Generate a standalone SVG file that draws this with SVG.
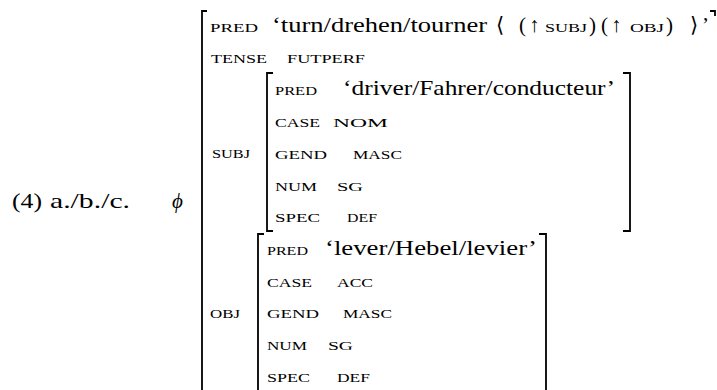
<svg xmlns="http://www.w3.org/2000/svg" width="717" height="390" viewBox="0 0 717 390">
<style>
.t{font-family:"Liberation Serif","DejaVu Serif",serif;font-size:21px;fill:#000}
.sc{font-family:"Liberation Serif","DejaVu Serif",serif;font-size:13.5px;fill:#000}
.br{fill:none;stroke:#000;stroke-width:1.8}
</style>
<rect width="717" height="390" fill="#fff"/>
<g id="label">
<text class="t" x="12" y="208" textLength="30" lengthAdjust="spacingAndGlyphs">(4)</text>
<text class="t" x="50" y="208" textLength="80" lengthAdjust="spacingAndGlyphs">a./b./c.</text>
<text class="t" x="172" y="208" font-style="italic">ϕ</text>
</g>
<g id="outer">
<path class="br" d="M207,11 H202 V390"/>
<path class="br" d="M710,11 H715 V16"/>
<text class="sc" x="210" y="32" textLength="48" lengthAdjust="spacingAndGlyphs">PRED</text>
<text class="t" x="272" y="32" textLength="215" lengthAdjust="spacingAndGlyphs">‘turn/drehen/tourner</text>
<text class="t" x="496" y="32">⟨</text>
<text class="t" x="519" y="32">(</text>
<text class="t" x="529" y="32">↑</text>
<text class="sc" x="545" y="32" textLength="42" lengthAdjust="spacingAndGlyphs">SUBJ</text>
<text class="t" x="589" y="32">)</text>
<text class="t" x="601" y="32">(</text>
<text class="t" x="611" y="32">↑</text>
<text class="sc" x="630" y="32" textLength="34" lengthAdjust="spacingAndGlyphs">OBJ</text>
<text class="t" x="666" y="32">)</text>
<text class="t" x="690" y="32">⟩</text>
<text class="t" x="702" y="32">’</text>
<text class="sc" x="211" y="63" textLength="56" lengthAdjust="spacingAndGlyphs">TENSE</text>
<text class="sc" x="287" y="63" textLength="78" lengthAdjust="spacingAndGlyphs">FUTPERF</text>
<text class="sc" x="212" y="158" textLength="38" lengthAdjust="spacingAndGlyphs">SUBJ</text>
<text class="sc" x="210" y="318" textLength="30" lengthAdjust="spacingAndGlyphs">OBJ</text>
</g>
<g id="subj">
<path class="br" d="M273,73 H267 V231 H273"/>
<path class="br" d="M623,73 H630 V231 H623"/>
<text class="sc" x="275" y="95" textLength="42" lengthAdjust="spacingAndGlyphs">PRED</text>
<text class="t" x="343" y="95" textLength="272" lengthAdjust="spacingAndGlyphs">‘driver/Fahrer/conducteur’</text>
<text class="sc" x="275" y="127" textLength="45" lengthAdjust="spacingAndGlyphs">CASE</text>
<text class="sc" x="333" y="127" textLength="55" lengthAdjust="spacingAndGlyphs">NOM</text>
<text class="sc" x="275" y="159" textLength="52" lengthAdjust="spacingAndGlyphs">GEND</text>
<text class="sc" x="353" y="159" textLength="49" lengthAdjust="spacingAndGlyphs">MASC</text>
<text class="sc" x="275" y="191" textLength="42" lengthAdjust="spacingAndGlyphs">NUM</text>
<text class="sc" x="337" y="191" textLength="26" lengthAdjust="spacingAndGlyphs">SG</text>
<text class="sc" x="275" y="222" textLength="45" lengthAdjust="spacingAndGlyphs">SPEC</text>
<text class="sc" x="347" y="222" textLength="30" lengthAdjust="spacingAndGlyphs">DEF</text>
</g>
<g id="obj">
<path class="br" d="M264,234 H258 V390"/>
<path class="br" d="M539,234 H546 V390"/>
<text class="sc" x="267" y="255" textLength="41" lengthAdjust="spacingAndGlyphs">PRED</text>
<text class="t" x="325" y="255" textLength="212" lengthAdjust="spacingAndGlyphs">‘lever/Hebel/levier’</text>
<text class="sc" x="267" y="287" textLength="45" lengthAdjust="spacingAndGlyphs">CASE</text>
<text class="sc" x="337" y="287" textLength="36" lengthAdjust="spacingAndGlyphs">ACC</text>
<text class="sc" x="267" y="318" textLength="52" lengthAdjust="spacingAndGlyphs">GEND</text>
<text class="sc" x="343" y="318" textLength="49" lengthAdjust="spacingAndGlyphs">MASC</text>
<text class="sc" x="267" y="350" textLength="40" lengthAdjust="spacingAndGlyphs">NUM</text>
<text class="sc" x="328" y="350" textLength="25" lengthAdjust="spacingAndGlyphs">SG</text>
<text class="sc" x="267" y="382" textLength="43" lengthAdjust="spacingAndGlyphs">SPEC</text>
<text class="sc" x="337" y="382" textLength="33" lengthAdjust="spacingAndGlyphs">DEF</text>
</g>
</svg>
